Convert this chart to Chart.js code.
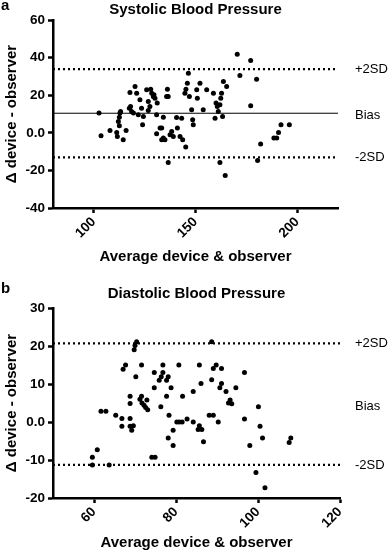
<!DOCTYPE html>
<html>
<head>
<meta charset="utf-8">
<script src="https://cdn.jsdelivr.net/npm/chart.js@4"></script>
<style>
  html, body { margin: 0; padding: 0; background: #fff; }
  .panel { position: absolute; left: 0; width: 392px; }
  canvas { display: block; }
</style>
</head>
<body>
<div class="panel" style="top:0;height:278px"><canvas id="sysChart" width="392" height="278"></canvas></div>
<div class="panel" style="top:278px;height:279px"><canvas id="diaChart" width="392" height="279"></canvas></div>
<script>
/* ── data: systolic (panel a) ── */
const SYS_AVG = [102.6, 103.6, 108.0, 111.3, 111.6, 112.1, 112.6, 112.9, 113.2, 112.6, 114.5, 115.9,
  117.8, 118.1, 118.6, 119.5, 117.5, 120.3, 121.1, 121.9, 122.7, 123.5, 124.0, 124.4, 126.0, 126.8,
  126.8, 127.6, 128.0, 128.5, 129.3, 129.6, 130.1, 130.9, 131.2, 130.9, 132.6, 133.4, 133.4, 134.2,
  135.0, 134.2, 135.8, 136.6, 136.2, 136.6, 137.5, 138.3, 139.1, 140.7, 141.1, 142.4, 143.2, 143.7,
  145.2, 144.8, 145.3, 146.0, 146.5, 147.0, 148.1, 148.6, 148.9, 150.6, 150.9, 152.2, 153.8, 155.5,
  158.8, 159.6, 160.1, 160.7, 161.2, 162.0, 162.4, 162.8, 163.3, 163.7, 165.3, 162.0, 164.6, 170.5,
  171.8, 177.1, 177.1, 180.0, 180.5, 182.0, 188.5, 189.9, 190.8, 192.0, 196.1];
const SYS_DIFF = [10.5, -1.6, 1.2, 0.2, -2.0, 6.0, 8.3, 10.5, 11.3, 3.7, -3.7, 1.2,
  21.5, 14.0, 11.3, 10.5, 13.0, 24.6, 21.1, 9.6, 17.6, 13.1, 4.3, 8.7, 22.9, 16.7,
  11.9, 14.0, 23.2, 21.1, 19.3, 20.2, 18.4, 9.6, 15.8, -0.5, 2.5, 2.5, -3.7, -2.8,
  -3.7, 8.3, 19.3, 19.3, 23.2, -15.8, -1.1, 0.7, -2.0, 8.2, 2.5, -2.0, 7.8, -3.7,
  -7.6, 21.1, 23.2, 26.4, 31.7, 19.3, 12.2, 6.9, 4.3, 22.9, 18.4, 26.4, 12.2, 22.9,
  21.1, 7.8, 15.8, 14.0, 11.3, 14.9, 18.4, 21.1, 8.7, 27.3, 24.6, -15.8, -22.7, 41.8,
  30.5, 38.5, 14.4, 28.5, -14.7, -5.9, -2.8, -2.8, 0.2, 4.3, 4.3];
const SYS_BIAS = 10.4, SYS_UPPER = 33.9, SYS_LOWER = -13.1;
const SYS_X_RANGE = [80, 220];
const SYS_Y_RANGE = [-40, 60];
const SYS_X_TICKS = [100, 150, 200];
const SYS_Y_TICKS = [-40, -20, 0, 20, 40, 60];

/* ── data: diastolic (panel b) ── */
const DIA_AVG = [59.6, 59.6, 60.8, 61.7, 62.9, 63.7, 65.3, 66.8, 66.8, 67.7, 67.1, 68.8, 68.8, 68.8,
  68.8, 69.6, 69.2, 70.4, 70.0, 69.8, 70.2, 71.6, 71.6, 71.2, 71.7, 72.2, 72.6, 73.1, 72.9, 74.1,
  74.9, 74.7, 74.7, 76.8, 76.8, 76.4, 75.9, 77.7, 78.1, 76.3, 77.7, 78.8, 78.3, 78.1, 79.3, 79.3,
  80.2, 80.8, 81.5, 80.7, 81.6, 82.7, 84.2, 84.2, 85.7, 85.7, 85.4, 86.3, 86.1, 86.7, 88.1, 89.1,
  88.7, 88.7, 89.1, 89.8, 91.1, 90.3, 91.1, 90.7, 92.2, 92.8, 93.2, 93.6, 94.6, 96.7, 96.7, 98.0,
  99.5, 100.1, 100.5, 101.1, 101.7, 107.6, 108.0];
const DIA_DIFF = [-9.3, -11.3, -7.3, 2.8, 2.8, -11.3, 1.8, 0.9, -1.1, 15.0, 13.9, 0.9, -1.1, 6.8,
  4.9, -1.0, -2.2, 21.1, 20.1, 19.0, 11.9, 15.0, 6.8, 6.0, 5.0, 4.4, 3.8, 3.2, 5.8, -9.3,
  -9.3, 13.0, 9.0, 15.0, 13.0, 11.9, 11.0, 11.0, 11.9, 4.0, 6.8, 9.0, 1.8, -4.2, -2.2, -6.2,
  0.0, 0.0, 0.0, 15.0, 6.8, 0.8, 0.0, 8.0, 15.0, -1.0, -2.0, -2.0, 10.1, -5.2, 1.8, 1.8,
  11.1, 21.1, 14.1, 15.0, 14.1, 0.0, 10.1, 9.0, 8.0, 5.0, 5.8, 4.8, 9.0, 13.0, 0.8, -6.2,
  -13.3, 4.0, -1.1, -4.2, -17.3, -5.4, -4.2];
const DIA_BIAS = 4.7, DIA_UPPER = 20.7, DIA_LOWER = -11.3;
const DIA_X_RANGE = [50, 120];
const DIA_Y_RANGE = [-20, 30];
const DIA_X_TICKS = [60, 80, 100, 120];
const DIA_Y_TICKS = [-20, -10, 0, 10, 20, 30];

const X_TITLE = 'Average device & observer';
const Y_TITLE = 'Δ device - observer';

Chart.defaults.font.family = "'Liberation Sans', Arial, sans-serif";
Chart.defaults.color = '#000';

const FONT = "'Liberation Sans', Arial, sans-serif";

// draws panel letter, panel title and the +2SD / Bias / -2SD labels
const panelText = {
  id: 'panelText',
  afterDraw(chart, args, o) {
    const c = chart.ctx, y = chart.scales.y;
    c.save();
    c.fillStyle = '#000';
    c.textBaseline = 'alphabetic';
    c.textAlign = 'left';
    c.font = 'bold 15px ' + FONT;
    c.fillText(o.letter, 1, o.letterY);
    c.textAlign = 'center';
    c.fillText(o.title, (chart.chartArea.left + chart.chartArea.right) / 2, o.titleY);
    c.textAlign = 'left';
    c.textBaseline = 'middle';
    c.font = '13px ' + FONT;
    c.fillText('+2SD', 355, y.getPixelForValue(o.upper));
    c.fillText('Bias', 355, y.getPixelForValue(o.bias) + 2);
    c.fillText('-2SD', 355, y.getPixelForValue(o.lower));
    c.restore();
  }
};

function limitLine(xr, v, dashed) {
  return {
    type: 'line',
    data: [{ x: xr[0], y: v }, { x: xr[1], y: v }],
    borderColor: '#000',
    borderWidth: dashed ? 2.2 : 1,
    borderDash: dashed ? [2, 3] : [],
    pointRadius: 0,
    clip: false
  };
}

function makePanel(id, p) {
  const pts = p.avg.map((v, i) => ({ x: v, y: p.diff[i] }));
  const datasets = [
    limitLine(p.xRange, p.upper, true),
    limitLine(p.xRange, p.lower, true),
    { type: 'scatter', data: pts, backgroundColor: '#000', borderWidth: 0, pointRadius: 2.5 }
  ];
  if (p.showBias) datasets.unshift(limitLine(p.xRange, p.bias, false));

  new Chart(document.getElementById(id), {
    data: { datasets },
    options: {
      responsive: false,
      animation: false,
      layout: { padding: p.pad },
      plugins: {
        legend: { display: false },
        tooltip: { enabled: false },
        panelText: { letter: p.letter, letterY: p.letterY, title: p.title, titleY: p.titleY,
                     upper: p.upper, bias: p.bias, lower: p.lower }
      },
      scales: {
        x: {
          type: 'linear', min: p.xRange[0], max: p.xRange[1],
          afterBuildTicks: s => { s.ticks = p.xTicks.map(v => ({ value: v })); },
          afterFit: s => { s.height = p.xAxisH; },
          grid: { drawOnChartArea: false, drawTicks: true, tickLength: 5, tickColor: '#000', tickWidth: 2.5 },
          border: { color: '#000', width: 2.5 },
          ticks: { color: '#000', font: { size: 13.5, weight: 'bold' }, minRotation: 45, maxRotation: 45, padding: 1 },
          title: { display: true, text: X_TITLE, color: '#000', font: { size: 15, weight: 'bold' }, padding: 0 }
        },
        y: {
          type: 'linear', min: p.yRange[0], max: p.yRange[1],
          afterBuildTicks: s => { s.ticks = p.yTicks.map(v => ({ value: v })); },
          afterFit: s => { s.width = 53; },
          grid: { drawOnChartArea: false, drawTicks: true, tickLength: 5, tickColor: '#000', tickWidth: 2.5 },
          border: { color: '#000', width: 2.5 },
          ticks: { color: '#000', font: { size: 13.5, weight: 'bold' }, padding: 3,
                   callback: v => v === 0 ? '0.0' : String(v) },
          title: { display: true, text: Y_TITLE, color: '#000', font: { size: 15, weight: 'bold' },
                   padding: { top: 3, bottom: 0 } }
        }
      }
    },
    plugins: [panelText]
  });
}

makePanel('sysChart', {
  avg: SYS_AVG, diff: SYS_DIFF, bias: SYS_BIAS, upper: SYS_UPPER, lower: SYS_LOWER, showBias: true,
  xRange: SYS_X_RANGE, yRange: SYS_Y_RANGE, xTicks: SYS_X_TICKS, yTicks: SYS_Y_TICKS,
  letter: 'a', letterY: 10, title: 'Systolic Blood Pressure', titleY: 13.5,
  pad: { left: 0, top: 20, right: 54, bottom: 12 }, xAxisH: 58
});

makePanel('diaChart', {
  avg: DIA_AVG, diff: DIA_DIFF, bias: DIA_BIAS, upper: DIA_UPPER, lower: DIA_LOWER, showBias: false,
  xRange: DIA_X_RANGE, yRange: DIA_Y_RANGE, xTicks: DIA_X_TICKS, yTicks: DIA_Y_TICKS,
  letter: 'b', letterY: 15, title: 'Diastolic Blood Pressure', titleY: 19.5,
  pad: { left: 0, top: 30, right: 52, bottom: 5 }, xAxisH: 54
});
</script>
</body>
</html>
